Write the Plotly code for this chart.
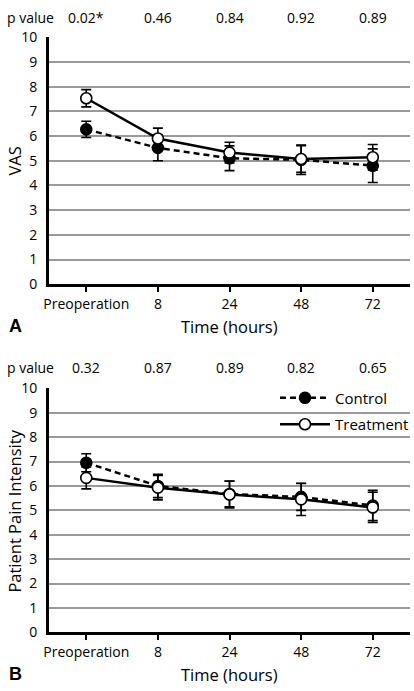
import plotly.graph_objects as go

categories = ["Preoperation", "8", "24", "48", "72"]

# Panel A (VAS)
vas_control = [6.27, 5.52, 5.10, 5.04, 4.80]
vas_control_err = [0.33, 0.52, 0.50, 0.60, 0.68]
vas_treatment = [7.53, 5.90, 5.33, 5.07, 5.14]
vas_treatment_err = [0.35, 0.42, 0.42, 0.54, 0.52]
vas_pvalues = ["0.02*", "0.46", "0.84", "0.92", "0.89"]

# Panel B (Patient Pain Intensity)
ppi_control = [6.95, 6.00, 5.67, 5.55, 5.20]
ppi_control_err = [0.37, 0.48, 0.52, 0.55, 0.62]
ppi_treatment = [6.33, 5.93, 5.65, 5.45, 5.12]
ppi_treatment_err = [0.45, 0.50, 0.55, 0.66, 0.62]
ppi_pvalues = ["0.32", "0.87", "0.89", "0.82", "0.65"]

yticks = list(range(0, 11))

FONT = "Open Sans"
W, H = 414, 691


def py(px):
    return 1 - px / H


fig = go.Figure()


def add_series(y, err, xa, ya, name, filled, dash, show):
    fig.add_trace(go.Scatter(
        x=list(range(len(categories))), y=y, xaxis=xa, yaxis=ya, name=name,
        mode="lines+markers",
        line=dict(color="black", width=2.5, dash=dash),
        marker=dict(size=11, symbol="circle",
                    color="black" if filled else "white",
                    line=dict(color="black", width=1.6)),
        error_y=dict(type="data", array=err, visible=True, color="black",
                     thickness=1.6, width=5),
        showlegend=show, legendgroup=name,
    ))


add_series(vas_control, vas_control_err, "x", "y", "Control", True, "6px,4px", False)
add_series(vas_treatment, vas_treatment_err, "x", "y", "Treatment", False, "solid", False)
add_series(ppi_control, ppi_control_err, "x2", "y2", "Control", True, "6px,4px", True)
add_series(ppi_treatment, ppi_treatment_err, "x2", "y2", "Treatment", False, "solid", True)

xdom = [45 / W, 1.0]
xr = [-0.52, 4.52]
axis_x = dict(domain=xdom, range=xr, tickvals=list(range(len(categories))), ticktext=categories,
              showline=True, linecolor="black",
              linewidth=3, ticks="outside", ticklen=5, tickwidth=2, tickcolor="black",
              showgrid=False, zeroline=False,
              tickfont=dict(family=FONT, size=14, color="black"))
axis_y = dict(range=[0, 10], tickvals=yticks, showline=True, linecolor="black", linewidth=3,
              ticks="", showgrid=True, gridcolor="#9a9a9a", gridwidth=1.5, zeroline=False,
              tickfont=dict(family=FONT, size=14, color="black"), ticklabelstandoff=6)

fig.update_layout(
    width=W, height=H, margin=dict(l=0, r=0, t=0, b=0),
    paper_bgcolor="white", plot_bgcolor="white",
    xaxis=dict(axis_x, anchor="y"),
    yaxis=dict(axis_y, domain=[py(282), py(28)], anchor="x"),
    xaxis2=dict(axis_x, anchor="y2"),
    yaxis2=dict(axis_y, domain=[py(640), py(389)], anchor="x2"),
    legend=dict(x=276 / W, y=py(382), xanchor="left", yanchor="top",
                bgcolor="rgba(0,0,0,0)", traceorder="grouped", tracegroupgap=4,
                itemwidth=50,
                font=dict(family=FONT, size=15, color="black")),
    showlegend=True,
)

ann = []
for pv, yy, xref in [(vas_pvalues, 8, "x"), (ppi_pvalues, 368, "x2")]:
    ann.append(dict(x=0, y=py(yy), xref="paper", yref="paper", text="p value", showarrow=False,
                    xanchor="left", yanchor="middle",
                    font=dict(family=FONT, size=14, color="black")))
    for i, t in enumerate(pv):
        ann.append(dict(x=i, y=py(yy), xref=xref, yref="paper", text=t,
                        showarrow=False, xanchor="center", yanchor="middle",
                        font=dict(family=FONT, size=14, color="black")))

for lbl, yy, ytitle, ymid in [("A", 325, "VAS", 155), ("B", 683, "Patient Pain Intensity", 515)]:
    ann.append(dict(x=2 / W, y=py(yy), xref="paper", yref="paper", text="<b>" + lbl + "</b>",
                    showarrow=False, xanchor="left", yanchor="middle",
                    font=dict(family="Liberation Sans", size=18, color="black")))
    ann.append(dict(x=229 / W, y=py(yy), xref="paper", yref="paper", text="Time (hours)",
                    showarrow=False, xanchor="center", yanchor="middle",
                    font=dict(family=FONT, size=16.5, color="black")))
    ann.append(dict(x=10 / W, y=py(ymid), xref="paper", yref="paper", text=ytitle,
                    showarrow=False, xanchor="center", yanchor="middle", textangle=-90,
                    font=dict(family=FONT, size=16.5, color="black")))

fig.update_layout(annotations=ann)

fig.write_html("out.html", config={"displayModeBar": False},
               post_script="document.body.style.margin='0';document.body.style.overflow='hidden';")
